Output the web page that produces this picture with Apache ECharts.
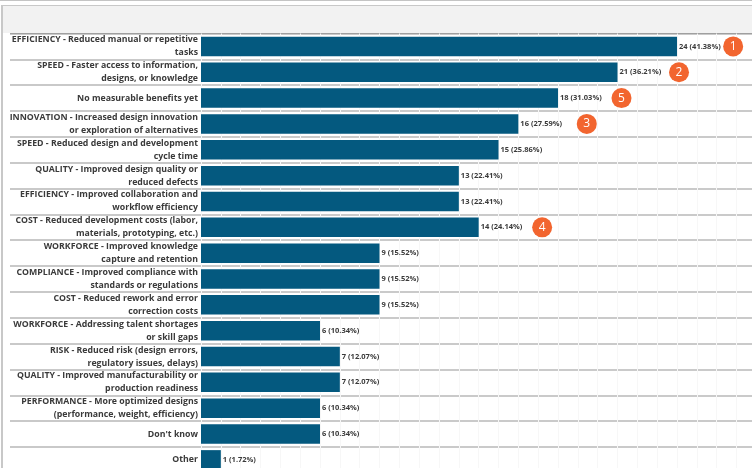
<!DOCTYPE html>
<html><head><meta charset="utf-8">
<style>html,body{margin:0;padding:0;background:#fff;overflow:hidden;width:752px;height:468px}#c{width:752px;height:480px;filter:blur(0.35px)}</style>
<script src="https://cdn.jsdelivr.net/npm/echarts@6/dist/echarts.min.js"></script>
</head><body><div id="c"></div>
<script>
const categories = [
 "EFFICIENCY - Reduced manual or repetitive\ntasks",
 "SPEED - Faster access to information,\ndesigns, or knowledge",
 "No measurable benefits yet",
 "INNOVATION - Increased design innovation\nor exploration of alternatives",
 "SPEED - Reduced design and development\ncycle time",
 "QUALITY - Improved design quality or\nreduced defects",
 "EFFICIENCY - Improved collaboration and\nworkflow efficiency",
 "COST - Reduced development costs (labor,\nmaterials, prototyping, etc.)",
 "WORKFORCE - Improved knowledge\ncapture and retention",
 "COMPLIANCE - Improved compliance with\nstandards or regulations",
 "COST - Reduced rework and error\ncorrection costs",
 "WORKFORCE - Addressing talent shortages\nor skill gaps",
 "RISK - Reduced risk (design errors,\nregulatory issues, delays)",
 "QUALITY - Improved manufacturability or\nproduction readiness",
 "PERFORMANCE - More optimized designs\n(performance, weight, efficiency)",
 "Don't know",
 "Other"
];
const counts = [24,21,18,16,15,13,13,14,9,9,9,6,7,7,6,6,1];
const percents = ["41.38","36.21","31.03","27.59","25.86","22.41","22.41","24.14","15.52","15.52","15.52","10.34","12.07","12.07","10.34","10.34","1.72"];
const badgeRows = [0,1,2,3,7];
const badgeX = [26.83,24.1,21.2,19.45,17.2];
const badgeText = ["1","2","5","3","4"];
const font = '"Open Sans","Noto Sans",sans-serif';
const chart = echarts.init(document.getElementById('c'),null,{renderer:'canvas'});
chart.setOption({
 animation:false,
 backgroundColor:'#fff',
 graphic:[
  {type:'rect',z:-1,shape:{x:2,y:5,width:750,height:28},style:{fill:'#f2f2f2'}},
  {type:'line',z:0,shape:{x1:0,y1:0.5,x2:752,y2:0.5},style:{stroke:'#c4c4c4',lineWidth:1}},
  {type:'line',z:0,shape:{x1:2,y1:5.5,x2:752,y2:5.5},style:{stroke:'#c8c8c8',lineWidth:1}},
  {type:'line',z:0,shape:{x1:2,y1:5,x2:2,y2:480},style:{stroke:'#c8c8c8',lineWidth:2}},
  {type:'line',z:0,shape:{x1:10,y1:33.5,x2:752,y2:33.5},style:{stroke:'#555',lineWidth:1}}
 ],
 grid:{left:201,top:33.5,width:551,height:439.3,containLabel:false,outerBoundsMode:'none'},
 xAxis:{type:'value',min:0,max:27.78,interval:1,axisLabel:{show:false},axisLine:{show:false},axisTick:{show:false},
  splitLine:{show:true,lineStyle:{color:'#f7f7f7',width:1}}},
 yAxis:{type:'category',inverse:true,data:categories,
  axisLine:{show:false},
  axisTick:{show:true,length:191,lineStyle:{color:'#b8b8b8',width:1.5}},
  splitLine:{show:true,lineStyle:{color:'#b8b8b8',width:1.5}},
  axisLabel:{color:'#3a3a3a',fontFamily:font,fontWeight:'bold',fontSize:8.75,lineHeight:13,align:'right',margin:3,interval:0}},
 series:[
  {type:'bar',data:counts,barWidth:19.5,itemStyle:{color:'#04597f'},z:3,
   label:{show:true,position:'right',distance:2,color:'#3a3a3a',fontFamily:font,fontWeight:'bold',fontSize:7.5,
    formatter:p=>counts[p.dataIndex]+' ('+percents[p.dataIndex]+'%)'}},
  {type:'scatter',symbol:'circle',symbolSize:20,z:5,silent:true,
   data:badgeRows.map((r,i)=>[badgeX[i],r]),
   itemStyle:{color:'#f2652f',opacity:1},
   label:{show:true,position:'inside',color:'#fff',fontFamily:font,fontSize:12,
    formatter:p=>badgeText[p.dataIndex]}}
 ]
});
</script></body></html>
